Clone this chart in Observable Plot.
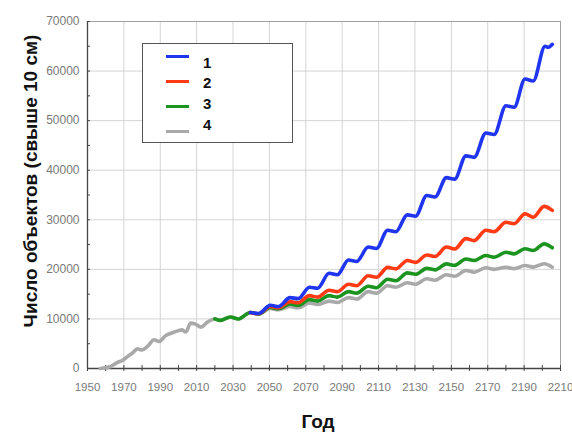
<!DOCTYPE html>
<html><head><meta charset="utf-8">
<script src="https://cdn.jsdelivr.net/npm/d3@7"></script>
<script src="https://cdn.jsdelivr.net/npm/@observablehq/plot@0.6"></script>
<style>
body{margin:0;background:#fff;}
#wrap{position:relative;width:572px;height:432px;font-family:'Liberation Sans',Arial,sans-serif;}
#legend{position:absolute;left:142px;top:43px;width:149px;height:98px;border:1.5px solid #555;background:#fff;}
#legend .sw{position:absolute;left:23px;width:23px;height:3px;}
#legend .lb{position:absolute;left:60px;font-weight:bold;font-size:15px;color:#111;}
</style></head>
<body><div id="wrap"></div>
<script>
// ---- data ----
const xLabelTicks = [1950,1970,1990,2010,2030,2050,2070,2090,2110,2130,2150,2170,2190,2210];
const xMinorTicks = [1950,1960,1970,1980,1990,2000,2010,2020,2030,2040,2050,2060,2070,2080,2090,2100,2110,2120,2130,2140,2150,2160,2170,2180,2190,2200,2210];
const yLabelTicks = [0,10000,20000,30000,40000,50000,60000,70000];
const yMinorTicks = [0,5000,10000,15000,20000,25000,30000,35000,40000,45000,50000,55000,60000,65000,70000];
const seriesNames = ["1","2","3","4"];
const seriesColors = ["#1f35f0","#ff3a14","#1c9420","#a9a9a9"];
const yTitle = "Число объектов (свыше 10 см)";
const xTitle = "Год";

const history = [[1957,0],[1960,150],[1962.8,400],[1966.5,1250],[1969,1600],[1972,2400],[1975,3200],[1977.4,3950],[1980,3750],[1983,4450],[1986.6,5800],[1989.3,5450],[1993,6650],[1997.5,7300],[2002,7800],[2004,7350],[2006.7,9150],[2009,9000],[2012.5,8350],[2015.8,9350],[2020,10000]];
const series1 = [[2039.5,11300],[2044,11100],[2050.5,12750],[2055,12500],[2061.3,14300],[2065.8,14100],[2072,16400],[2076.5,16200],[2082.8,19200],[2087.3,18900],[2093.5,21900],[2098,21600],[2104.3,24500],[2108.8,24200],[2115,27900],[2119.5,27600],[2125.8,31000],[2130.3,30700],[2136.5,34900],[2141,34600],[2147.3,38500],[2151.8,38200],[2158,42900],[2162.5,42600],[2169,47500],[2173.5,47200],[2180,53000],[2184.5,52700],[2190.5,58400],[2195,58000],[2201.5,65000],[2203.3,64800],[2205.5,65400]];
const series2 = [[2039.5,11300],[2044,11030],[2050.5,12500],[2055,12250],[2061.3,13500],[2065.8,13250],[2072,14700],[2076.5,14400],[2082.8,15800],[2087.3,15500],[2093.5,17000],[2098,16700],[2104.3,18700],[2108.8,18400],[2115,20400],[2119.5,20100],[2125.8,21800],[2130.3,21400],[2136.5,22900],[2141,22600],[2147.3,24500],[2151.8,24100],[2158,26200],[2162.5,25800],[2169,27900],[2173.5,27600],[2180,29500],[2184.5,29200],[2190.5,31200],[2195,30500],[2201,32700],[2205.5,31900]];
const series3 = [[2020,10000],[2023,9700],[2028.5,10400],[2033,10000],[2039.5,11300],[2044,11000],[2050.5,12300],[2055,12050],[2061.3,13000],[2065.8,12750],[2072,13900],[2076.5,13600],[2082.8,14700],[2087.3,14400],[2093.5,15500],[2098,15200],[2104.3,16600],[2108.8,16300],[2115,18000],[2119.5,17700],[2125.8,19300],[2130.3,19000],[2136.5,20200],[2141,19900],[2147.3,21100],[2151.8,20800],[2158,22100],[2162.5,21800],[2169,22800],[2173.5,22450],[2180,23450],[2184.5,23130],[2190.5,24150],[2195,23800],[2201,25150],[2205.5,24350]];
const series4 = [[2023,9700],[2028.5,10400],[2033,10000],[2039.5,11300],[2044,11000],[2050.5,12100],[2055,11850],[2061.3,12500],[2065.8,12250],[2072,13200],[2076.5,12900],[2082.8,13600],[2087.3,13300],[2093.5,14300],[2098,14000],[2104.3,15500],[2108.8,15200],[2115,16700],[2119.5,16400],[2125.8,17300],[2130.3,17000],[2136.5,18100],[2141,17800],[2147.3,18900],[2151.8,18600],[2158,19770],[2162.5,19430],[2169,20310],[2173.5,20000],[2180,20440],[2184.5,20150],[2190.5,20780],[2195,20450],[2201,21120],[2205.5,20440]];

// ---- build ----
const gray = history.concat(series4);
const all = [gray, series3, series2, series1];
const colorsInDrawOrder = [seriesColors[3], seriesColors[2], seriesColors[1], seriesColors[0]];

const lineMarks = all.map((s, i) => Plot.line(s, {x: d => d[0], y: d => d[1], stroke: colorsInDrawOrder[i], strokeWidth: 3.6, curve: "monotone-x", strokeLinejoin: "round", strokeLinecap: "round"}));

const chart = Plot.plot({
  width: 572, height: 432,
  marginLeft: 87, marginRight: 12, marginTop: 21, marginBottom: 64,
  x: {domain: [xLabelTicks[0], xLabelTicks[xLabelTicks.length-1]], label: null},
  y: {domain: [yLabelTicks[0], yLabelTicks[yLabelTicks.length-1]], label: null},
  style: {fontFamily: "'Liberation Sans', Arial, sans-serif", background: "white", overflow: "visible"},
  marks: [
    Plot.gridX(xLabelTicks, {stroke: "#d4d4d4", strokeOpacity: 1}),
    Plot.gridY(yLabelTicks, {stroke: "#d4d4d4", strokeOpacity: 1}),
    Plot.frame({stroke: "#a0a0a0"}),
    Plot.ruleX([xLabelTicks[0]], {stroke: "#444", strokeWidth: 1.3}),
    Plot.ruleY([yLabelTicks[0]], {stroke: "#444", strokeWidth: 1.3}),
    Plot.axisX({ticks: xMinorTicks, tickSize: 6, dy: -3, tickFormat: () => "", stroke: "#444"}),
    Plot.axisY({ticks: yMinorTicks, tickSize: 3, dx: 3, tickFormat: () => "", stroke: "#444"}),
    Plot.axisX({ticks: xLabelTicks, tickSize: 0, tickPadding: 14, tickFormat: d => String(d), fill: "#7a7a7a", fontSize: 11.5}),
    Plot.axisY({ticks: yLabelTicks, tickSize: 0, tickPadding: 8, tickFormat: d => String(d), fill: "#7a7a7a", fontSize: 12}),
    ...lineMarks,
    Plot.text([yTitle], {frameAnchor: "left", text: d => d, rotate: -90, textAnchor: "middle", lineAnchor: "middle", dx: -57, dy: -14, fontSize: 19, fontWeight: "bold", fill: "#111"}),
    Plot.text([xTitle], {frameAnchor: "bottom", text: d => d, textAnchor: "middle", lineAnchor: "middle", dx: -6, dy: 53, fontSize: 19, fontWeight: "bold", fill: "#111"})
  ]
});
const wrap = document.getElementById("wrap");
wrap.appendChild(chart);

// legend overlay
const leg = document.createElement("div");
leg.id = "legend";
const rowTops = [12, 37, 62, 87];
const labTops = [10, 30, 51, 72];
seriesNames.forEach((n, i) => {
  const sw = document.createElement("div");
  sw.className = "sw";
  sw.style.top = (rowTops[i] - 1.5) + "px";
  sw.style.background = seriesColors[i];
  leg.appendChild(sw);
  const lb = document.createElement("div");
  lb.className = "lb";
  lb.style.top = labTops[i] + "px";
  lb.textContent = n;
  leg.appendChild(lb);
});
wrap.appendChild(leg);
</script></body></html>
